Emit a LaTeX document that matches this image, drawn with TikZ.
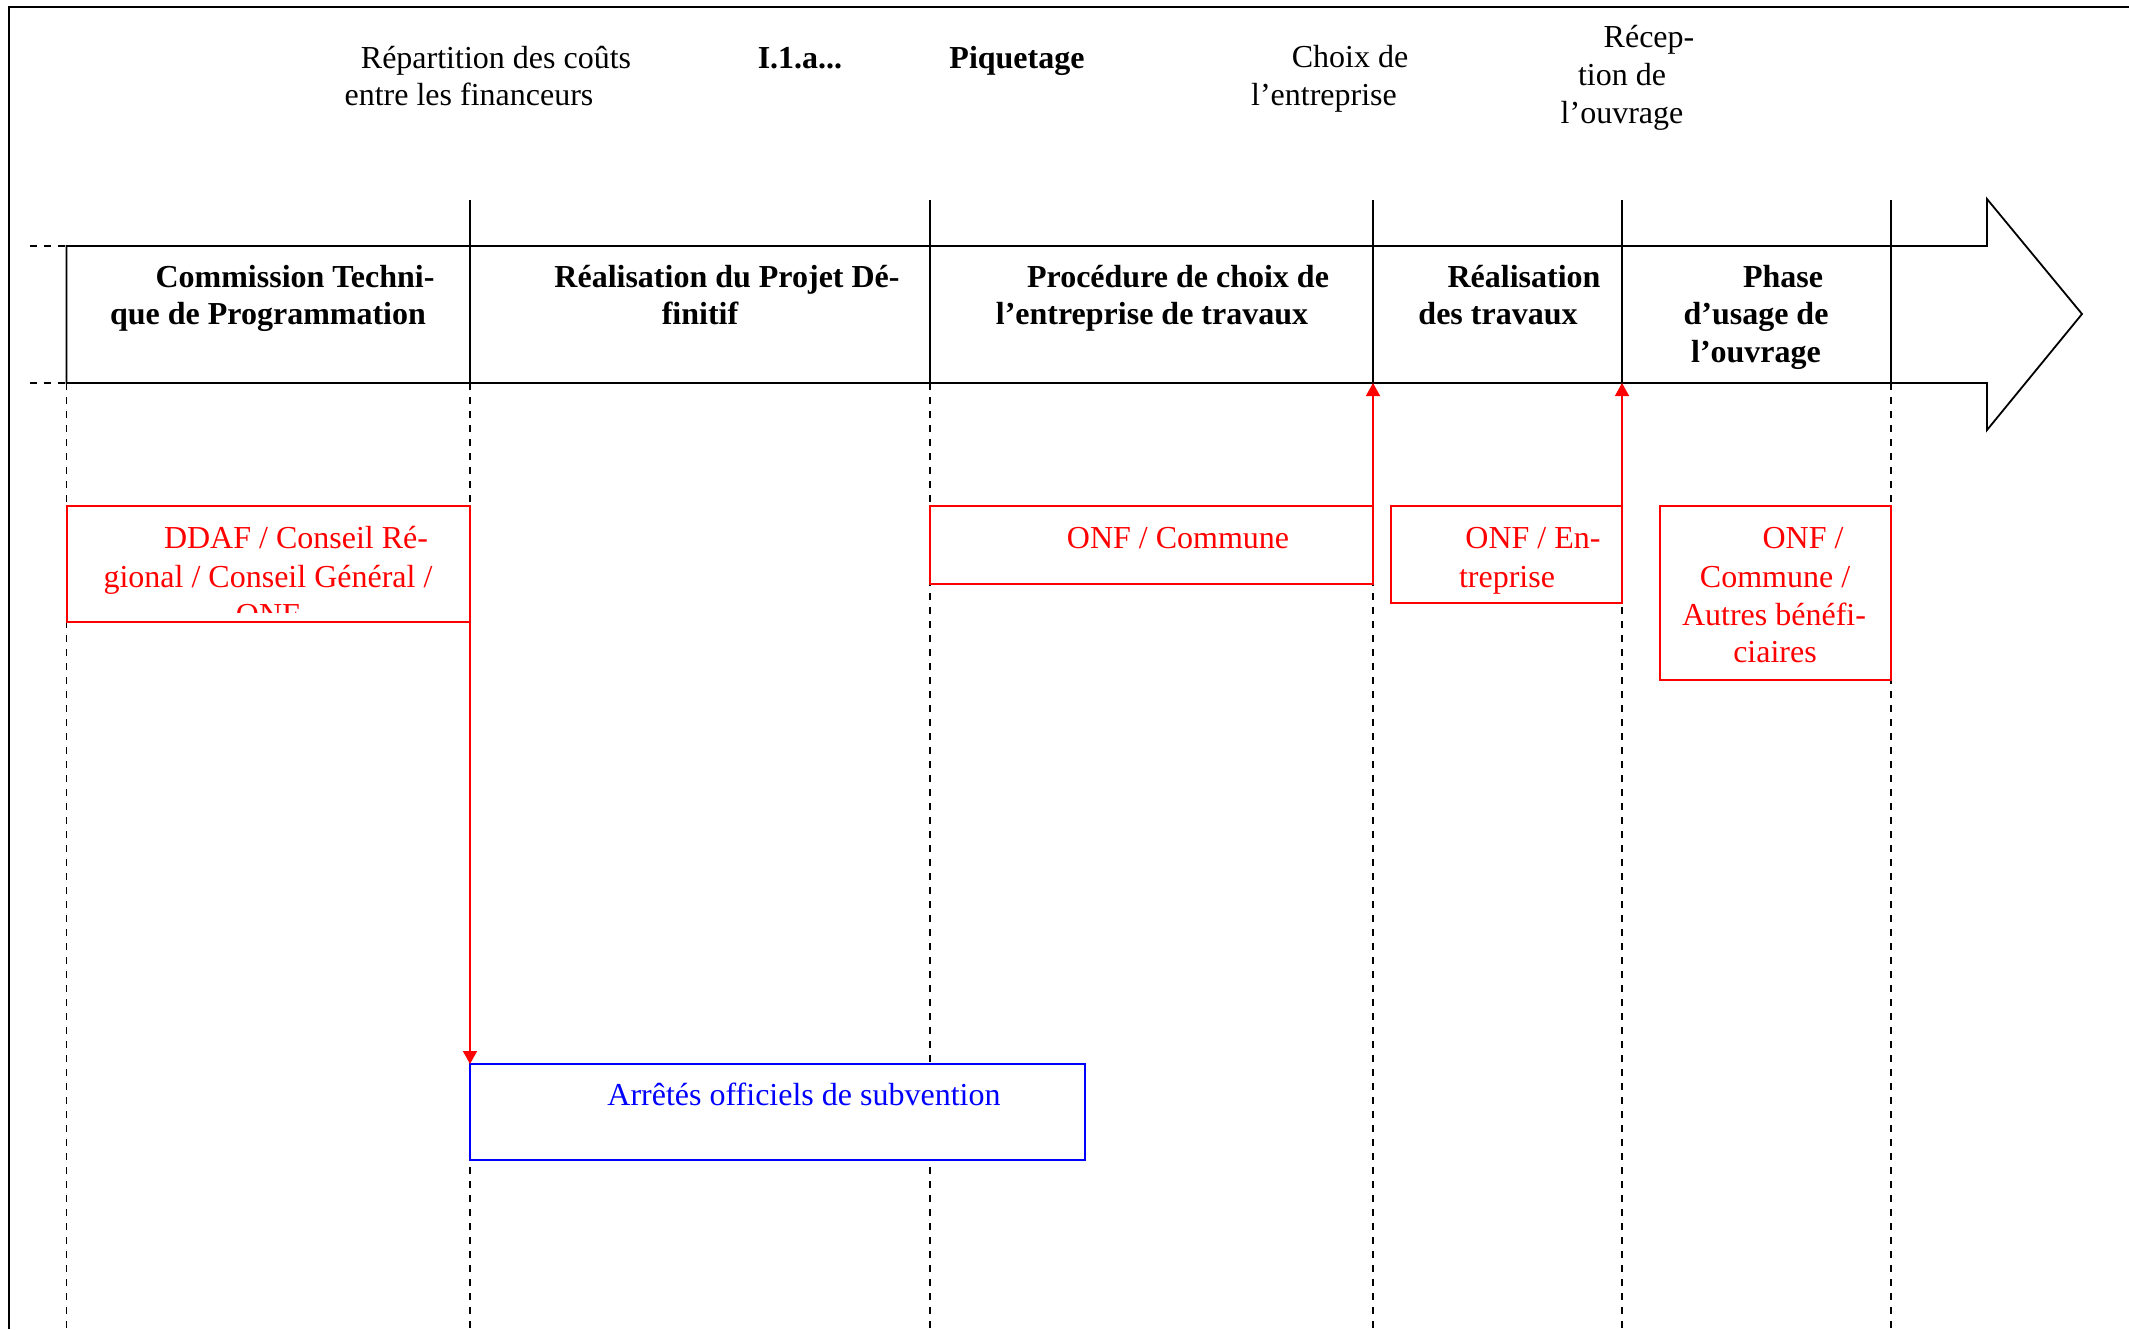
\documentclass[tikz,border=0pt]{standalone}
\usepackage{fontspec}
\setmainfont{Liberation Serif}
\usetikzlibrary{arrows.meta}
\begin{document}
\begin{tikzpicture}[x=0.5pt,y=-0.5pt,
  font=\fontsize{16pt}{19pt}\selectfont,
  txt/.style={anchor=mid,inner sep=0pt,outer sep=0pt,yshift=-2.75pt},
  hdr/.style={txt,font=\fontsize{16pt}{19pt}\selectfont\bfseries},
  rtxt/.style={txt,text=red},
  btxt/.style={txt,text=blue},
  frameline/.style={line width=0.85pt},
  bandline/.style={line width=0.9pt},
  sepline/.style={line width=0.75pt},
  lane/.style={line width=0.9pt,dash pattern=on 3.7pt off 3.3pt},
  rbox/.style={draw=red,fill=white,line width=1pt,inner sep=0pt,outer sep=0pt,anchor=north west},
  bbox/.style={draw=blue,fill=white,line width=1pt,inner sep=0pt,outer sep=0pt,anchor=north west},
  rarrow/.style={red,line width=0.75pt,-{Triangle[length=6.5pt,width=7pt]}}]
\useasboundingbox (0,0) rectangle (2129,1329);
% page frame
\draw[frameline] (9,1329) -- (9,7) -- (2129,7);
% swim lanes (dashed)
\foreach \x in {66.5,470,930,1373,1622,1891} {
  \draw[lane] (\x,383) -- (\x,1329);
}
\draw[lane] (30,246) -- (66.5,246);
\draw[lane] (30,383) -- (66.5,383);
% band arrow
\draw[bandline] (66.5,246) -- (1987,246) -- (1987,199) -- (2082,314) -- (1987,430) -- (1987,383) -- (66.5,383) -- cycle;
% separators
\foreach \x in {470,930,1373,1622,1891} {
  \draw[sepline] (\x,200) -- (\x,383);
}
\coordinate (m3) at (1373,383);
\coordinate (m4) at (1622,383);
% top labels
\node[txt] (r1) at (496,58) {Répartition des coûts};
\node[txt] (r2) at (469,95) {entre les financeurs};
\node[hdr] (i1) at (800,58) {I.1.a...};
\node[hdr] (pq) at (1017,58) {Piquetage};
\node[txt] (c1) at (1350,57) {Choix de};
\node[txt] (c2) at (1324,95) {l’entreprise};
\node[txt] (rc1) at (1649,37) {Récep-};
\node[txt] (rc2) at (1622,75) {tion de};
\node[txt] (rc3) at (1622,113) {l’ouvrage};
% band labels
\node[hdr] (h1a) at (295,277) {Commission Techni-};
\node[hdr] (h1b) at (268,314) {que de Programmation};
\node[hdr] (h2a) at (727,277) {Réalisation du Projet Dé-};
\node[hdr] (h2b) at (700,314) {finitif};
\node[hdr] (h3a) at (1178,277) {Procédure de choix de};
\node[hdr] (h3b) at (1152,314) {l’entreprise de travaux};
\node[hdr] (h4a) at (1524,277) {Réalisation};
\node[hdr] (h4b) at (1498,314) {des travaux};
\node[hdr] (h5a) at (1783,277) {Phase};
\node[hdr] (h5b) at (1756,314) {d’usage de};
\node[hdr] (h5c) at (1756,352) {l’ouvrage};
% boxes
\node[rbox,minimum width=201.75pt,minimum height=58pt] (b1) at (66.5,506) {};
\node[rbox,minimum width=221.5pt,minimum height=39pt] (b2) at (930,506) {};
\node[rbox,minimum width=115.5pt,minimum height=48.5pt] (b3) at (1391,506) {};
\node[rbox,minimum width=115.5pt,minimum height=87pt] (b4) at (1660,506) {};
\node[bbox,minimum width=307.5pt,minimum height=48pt] (b5) at (470,1064) {};
% box texts
\node[rtxt] (d1) at (296,538) {DDAF / Conseil Ré-};
\node[rtxt] (d2) at (268,577) {gional / Conseil Général /};
\begin{scope}
  \clip (66.5,506) rectangle (470,612);
  \node[rtxt] (d3) at (268,615) {ONF};
\end{scope}
\node[rtxt] (e1) at (1178,538) {ONF / Commune};
\node[rtxt] (f1) at (1533,538) {ONF / En-};
\node[rtxt] (f2) at (1507,577) {treprise};
\node[rtxt] (g1) at (1803,538) {ONF /};
\node[rtxt] (g2) at (1775,577) {Commune /};
\node[rtxt] (g3) at (1774,615) {Autres bénéfi-};
\node[rtxt] (g4) at (1775,652) {ciaires};
\node[btxt] (a1) at (804,1095) {Arrêtés officiels de subvention};
% connectors
\draw[rarrow] (b1.south east) -- (b5.north west);
\draw[rarrow] (b2.north east) -- (m3);
\draw[rarrow] (b3.north east) -- (m4);
\end{tikzpicture}
\end{document}
